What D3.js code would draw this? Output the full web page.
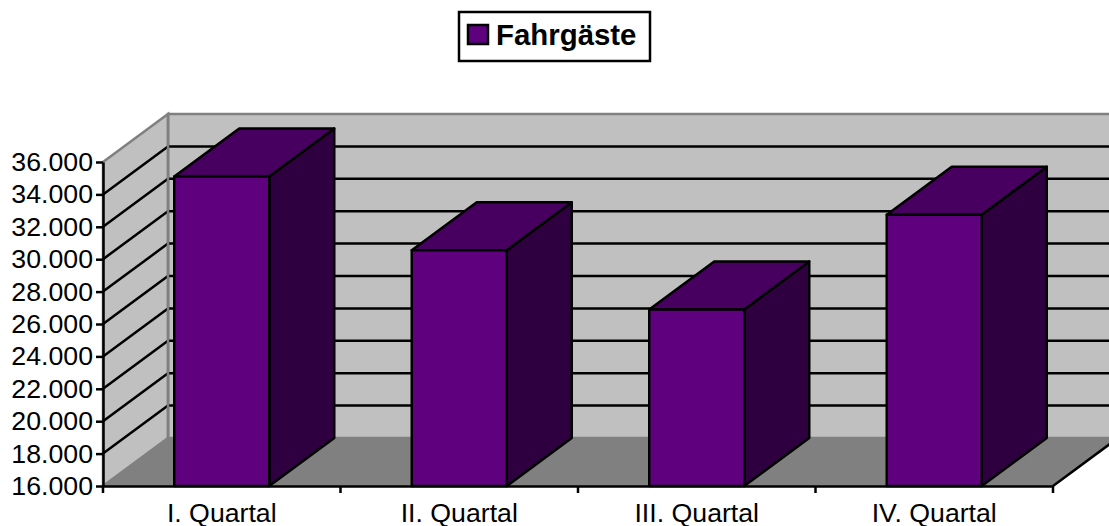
<!DOCTYPE html>
<html>
<head>
<meta charset="utf-8">
<style>
  html, body { margin: 0; padding: 0; background: #fff; overflow: hidden; }
  svg { display: block; font-family: "Liberation Sans", Arial, sans-serif; }
</style>
<script src="https://cdn.jsdelivr.net/npm/d3@7"></script>
</head>
<body>
<svg width="1109" height="526"></svg>
<script>
var seriesName = 'Fahrgäste';
var categories = ['I. Quartal', 'II. Quartal', 'III. Quartal', 'IV. Quartal'];
var values = [35100, 30550, 26900, 32750];
var yTicks = [16000, 18000, 20000, 22000, 24000, 26000, 28000, 30000, 32000, 34000, 36000];

var svg = d3.select('svg');
var margin = { left: 103, right: 1053, top: 162, bottom: 486 };
var depth = { x: 65, y: -48 };
var lineW = 2.5;

var x = d3.scaleBand().domain(categories).range([margin.left, margin.right])
  .paddingInner(0.6).paddingOuter(0.3);
var y = d3.scaleLinear().domain([16000, 36000]).range([margin.bottom, margin.top]);
var de = d3.formatLocale({ decimal: ',', thousands: '.', grouping: [3], currency: ['', ' €'] });

function pts(a) {
  return a.map(function (p) { return p.join(','); }).join(' ');
}

// walls and floor
var wallTop = y(36000) + depth.y, wallBottom = y(16000) + depth.y;
var wallLeft = margin.left + depth.x, wallRight = margin.right + depth.x;

svg.append('polygon')
  .attr('points', pts([[wallLeft, wallTop], [wallRight, wallTop], [wallRight, wallBottom], [wallLeft, wallBottom]]))
  .attr('fill', '#c0c0c0').attr('stroke', '#808080').attr('stroke-width', lineW);
svg.append('polygon')
  .attr('points', pts([[margin.left, y(36000)], [wallLeft, wallTop], [wallLeft, wallBottom], [margin.left, y(16000)]]))
  .attr('fill', '#c0c0c0').attr('stroke', '#808080').attr('stroke-width', lineW);
svg.append('polygon')
  .attr('points', pts([[margin.left, y(16000)], [wallLeft, wallBottom], [wallRight, wallBottom], [margin.right, y(16000)]]))
  .attr('fill', '#808080').attr('stroke', '#808080').attr('stroke-width', 1);

// gridlines on both walls
var grid = yTicks.filter(function (d) { return d > 16000 && d < 36000; });
svg.append('g').selectAll('line').data(grid).enter().append('line')
  .attr('x1', wallLeft).attr('x2', wallRight)
  .attr('y1', function (d) { return y(d) + depth.y; })
  .attr('y2', function (d) { return y(d) + depth.y; })
  .attr('stroke', '#000').attr('stroke-width', lineW);
svg.append('g').selectAll('line').data(grid).enter().append('line')
  .attr('x1', margin.left).attr('x2', wallLeft)
  .attr('y1', function (d) { return y(d); })
  .attr('y2', function (d) { return y(d) + depth.y; })
  .attr('stroke', '#000').attr('stroke-width', lineW);
// left edge of the back wall stays grey, over the grid ends
svg.append('line')
  .attr('x1', wallLeft).attr('x2', wallLeft).attr('y1', wallTop).attr('y2', wallBottom)
  .attr('stroke', '#808080').attr('stroke-width', lineW);
svg.append('line')
  .attr('x1', margin.right).attr('x2', wallRight)
  .attr('y1', y(16000)).attr('y2', wallBottom)
  .attr('stroke', '#000').attr('stroke-width', lineW);

// bars: side, top, front
var bars = svg.append('g').selectAll('g').data(values).enter().append('g')
  .attr('stroke', '#000').attr('stroke-width', lineW).attr('stroke-linejoin', 'round');
bars.append('polygon')
  .attr('fill', '#2f003f')
  .attr('points', function (d, i) {
    var r = x(categories[i]) + x.bandwidth();
    return pts([[r, y(d)], [r + depth.x, y(d) + depth.y], [r + depth.x, y(16000) + depth.y], [r, y(16000)]]);
  });
bars.append('polygon')
  .attr('fill', '#47005f')
  .attr('points', function (d, i) {
    var l = x(categories[i]), r = l + x.bandwidth();
    return pts([[l, y(d)], [l + depth.x, y(d) + depth.y], [r + depth.x, y(d) + depth.y], [r, y(d)]]);
  });
bars.append('rect')
  .attr('fill', '#5f007f')
  .attr('x', function (d, i) { return x(categories[i]); })
  .attr('y', function (d) { return y(d); })
  .attr('width', x.bandwidth())
  .attr('height', function (d) { return y(16000) - y(d); });

// axes
var yAxis = svg.append('g')
  .attr('transform', 'translate(' + margin.left + ',0)')
  .call(d3.axisLeft(y).tickValues(yTicks).tickFormat(de.format(',d')).tickSize(7).tickPadding(3).tickSizeOuter(0));
yAxis.selectAll('text').attr('font-size', 26.7).attr('font-family', null).attr('fill', '#000');
yAxis.selectAll('line').attr('stroke', '#000').attr('stroke-width', lineW);
yAxis.select('.domain').attr('stroke', '#000').attr('stroke-width', lineW);

var xAxis = svg.append('g')
  .attr('transform', 'translate(0,' + margin.bottom + ')')
  .call(d3.axisBottom(x).tickSize(0).tickPadding(17));
xAxis.selectAll('text').attr('font-size', 26.7).attr('font-family', null).attr('fill', '#000');
xAxis.select('.domain').attr('stroke', '#000').attr('stroke-width', lineW);
xAxis.selectAll('.sep').data(d3.range(categories.length + 1)).enter().append('line')
  .attr('class', 'sep')
  .attr('x1', function (d) { return margin.left + d * x.step(); })
  .attr('x2', function (d) { return margin.left + d * x.step(); })
  .attr('y1', 0).attr('y2', 7)
  .attr('stroke', '#000').attr('stroke-width', lineW);

// legend
var legend = svg.append('g');
legend.append('rect').attr('x', 459).attr('y', 12).attr('width', 191).attr('height', 49)
  .attr('fill', '#fff').attr('stroke', '#000').attr('stroke-width', lineW);
legend.append('rect').attr('x', 468).attr('y', 25).attr('width', 20).attr('height', 19)
  .attr('fill', '#5f007f').attr('stroke', '#000').attr('stroke-width', lineW);
legend.append('text').attr('x', 496).attr('y', 45)
  .attr('font-size', 29.4).attr('font-weight', 'bold').attr('fill', '#000').text(seriesName);
</script>
</body>
</html>
